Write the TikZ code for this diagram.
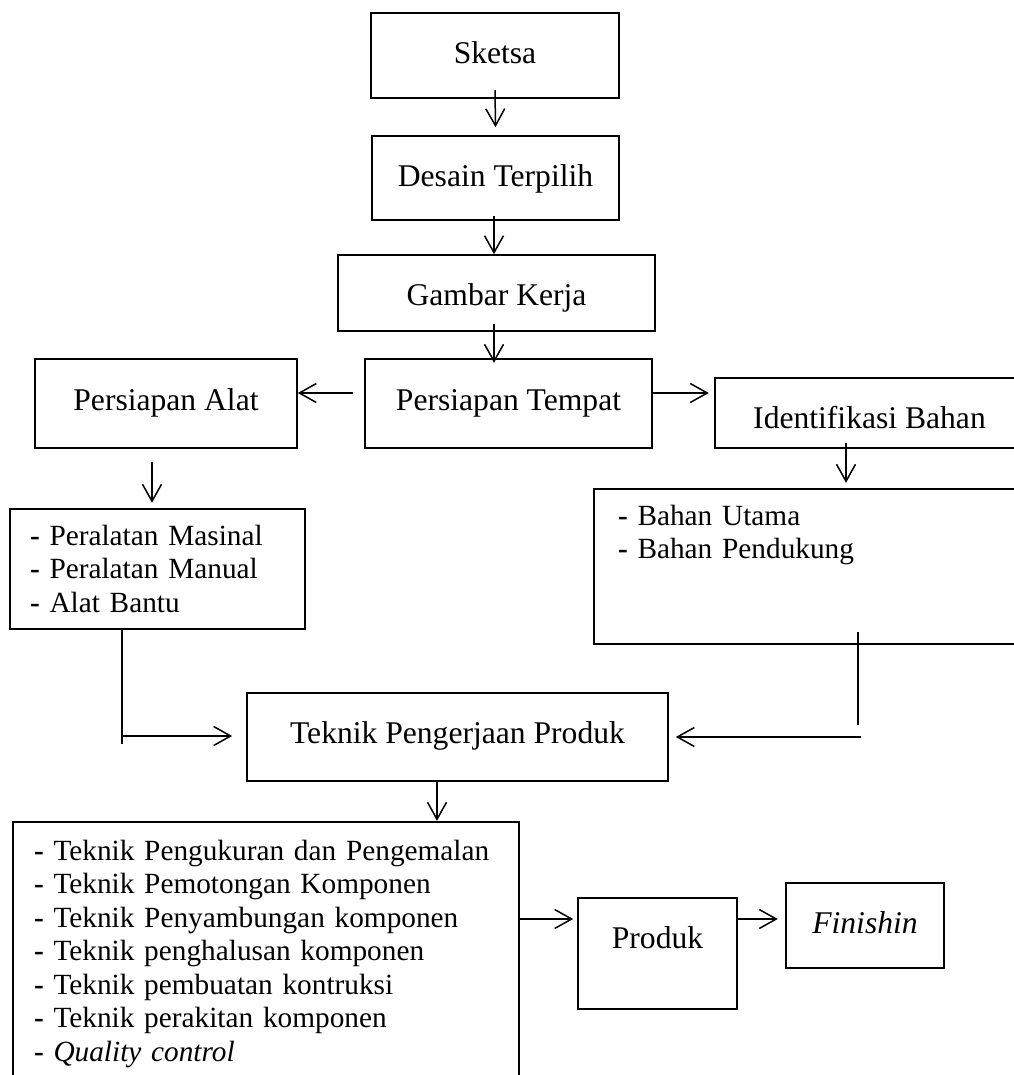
\documentclass[tikz,border=0pt]{standalone}
\usepackage{fontspec}
\setmainfont{Liberation Serif}
\usetikzlibrary{arrows.meta}

\begin{document}
\begin{tikzpicture}[x=0.5pt,y=-0.5pt,
	box/.style={draw,line width=0.8pt,inner sep=0pt,font=\fontsize{15.8}{18}\selectfont},
	listbox/.style={draw,line width=0.8pt,inner ysep=0pt,align=left,font=\fontsize{14.65}{16.75}\selectfont},
	arr/.style={line width=0.75pt,-{Straight Barb[length=8.5pt,width=9.5pt]}},
	link/.style={line width=0.75pt}]
		\useasboundingbox (0,0) rectangle (1013,1075);
		\node[box,minimum width=124pt,text height=25.5pt,text depth=17pt] (sketsa) at (495,55.5) {Sketsa};
		\node[box,minimum width=123.5pt,text height=25.5pt,text depth=16.5pt] (desain) at (495.5,178) {Desain Terpilih};
		\node[box,minimum width=158.5pt,text height=25pt,text depth=13pt] (gambar) at (496.5,293) {Gambar Kerja};
		\node[box,minimum width=143.5pt,text height=25.5pt,text depth=19pt] (tempat) at (508.5,403.5) {Persiapan Tempat};
		\node[box,minimum width=131pt,text height=25.5pt,text depth=19pt] (alat) at (166,403.5) {Persiapan Alat};
		\node[box,minimum width=154.5pt,text height=25pt,text depth=10pt] (ident) at (869.5,413) {Identifikasi Bahan};
		\node[listbox,inner xsep=10pt,text width=127.5pt,text height=18pt,text depth=42pt] (alatlist) at (157.5,569)
			{\textbf{-} Peralatan Masinal\\ \textbf{-} Peralatan Manual\\ \textbf{-} Alat Bantu};
		\node[listbox,inner xsep=12pt,text width=194pt,text height=18pt,text depth=59.5pt] (bahanlist) at (812,566.5)
			{\textbf{-} Bahan Utama\\ \textbf{-} Bahan Pendukung};
		\node[box,minimum width=210.5pt,text height=25pt,text depth=19pt] (teknik) at (457.5,737) {Teknik Pengerjaan Produk};
		\node[listbox,inner xsep=10.5pt,text width=232pt,text height=19pt,text depth=117.5pt] (tekniklist) at (266,958.5)
			{\textbf{-} Teknik Pengukuran dan Pengemalan\\ \textbf{-} Teknik Pemotongan Komponen\\
			 \textbf{-} Teknik Penyambungan komponen\\ \textbf{-} Teknik penghalusan komponen\\
			 \textbf{-} Teknik pembuatan kontruksi\\ \textbf{-} Teknik perakitan komponen\\
			 \textbf{-} \textit{Quality control}};
		\node[box,minimum width=79.5pt,text height=25pt,text depth=30.5pt] (produk) at (657.5,953.5) {Produk};
		\node[box,minimum width=79pt,text height=25pt,text depth=17.5pt] (finishin) at (865,925.5) {\textit{Finishin}};
		\draw[arr] ([yshift=4.5pt]sketsa.south) -- ([yshift=4pt]desain.north);
		\draw[arr] ([xshift=-0.75pt,yshift=2.5pt]desain.south) -- ([xshift=-1.25pt]gambar.north);
		\draw[arr] ([xshift=-1.25pt,yshift=4pt]gambar.south) -- ++(0,39);
		\draw[arr] ([xshift=-5.5pt,yshift=5.25pt]tempat.west) -- ([yshift=5.25pt]alat.east);
		\draw[arr] ([yshift=5.25pt]tempat.east) -- ++(56,0);
		\draw[arr] ([xshift=-7pt,yshift=-6.5pt]alat.south) -- ++(0,41);
		\draw[arr] ([xshift=-11.75pt,yshift=3pt]ident.south) -- ++(0,40);
		\draw[link] ([xshift=-17.75pt]alatlist.south) -- ++(0,114);
		\draw[arr] ([xshift=-62.5pt,yshift=0.5pt]teknik.west) -- ([xshift=-7pt,yshift=0.5pt]teknik.west);
		\draw[link] ([xshift=94.5pt,yshift=6pt]teknik.east) -- ++(0,-93);
		\draw[arr] ([xshift=96pt]teknik.east) -- ([xshift=3.5pt]teknik.east);
		\draw[arr] ([xshift=-10.25pt]teknik.south) -- ++(0,39);
		\draw[arr] ([xshift=-29.5pt,yshift=17.25pt]produk.west) -- ([xshift=-2pt,yshift=17.25pt]produk.west);
		\draw[arr] ([yshift=17.25pt]produk.east) -- ++(40,0);
	% alur pembuatan produk
	\end{tikzpicture}
\end{document}
